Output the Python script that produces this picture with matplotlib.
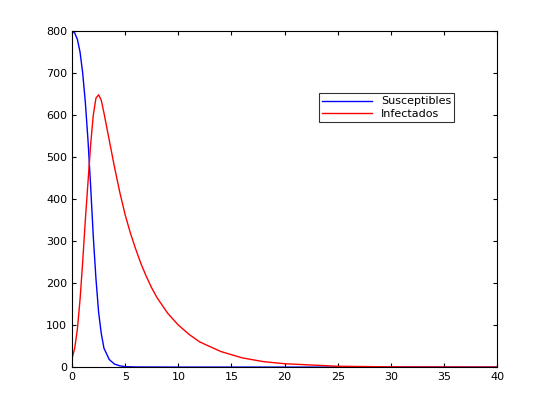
import matplotlib
matplotlib.use("Agg")
import matplotlib.pyplot as plt

t_s = [0, 0.25, 0.5, 0.75, 1.0, 1.25, 1.5, 1.75, 2.0, 2.25, 2.5, 2.75, 3.0, 3.5, 4.0, 4.5, 5.0, 6.0, 10, 20, 40]
s_vals = [800, 795, 780, 750, 700, 630, 540, 430, 310, 210, 130, 80, 45, 18, 7, 3, 1, 0.3, 0, 0, 0]
t_i = [0, 0.25, 0.5, 0.75, 1.0, 1.25, 1.5, 1.75, 2.0, 2.25, 2.5, 2.75, 3.0, 3.5, 4.0, 4.5, 5.0, 5.5, 6.0, 6.5, 7.0, 7.5, 8.0, 9.0, 10, 11, 12, 14, 16, 18, 20, 25, 30, 40]
i_vals = [20, 45, 90, 160, 250, 350, 440, 530, 600, 640, 648, 635, 605, 540, 475, 415, 362, 318, 280, 245, 215, 188, 165, 128, 100, 78, 60, 37, 22, 13, 8, 2, 0.5, 0]

fig = plt.figure(figsize=(5.5, 4.12), dpi=100)
ax = fig.add_axes([0.131, 0.109, 0.773, 0.816])
ax.plot(t_s, s_vals, color="#0000ff", lw=1, label="Susceptibles")
ax.plot(t_i, i_vals, color="#ff0000", lw=1, label="Infectados")
ax.set_xlim(0, 40)
ax.set_ylim(0, 800)
ax.set_xticks(range(0, 41, 5))
ax.set_yticks(range(0, 801, 100))
ax.tick_params(direction="in", labelsize=8, top=True, right=True, length=3)
leg = ax.legend(loc="upper left", bbox_to_anchor=(0.58, 0.815), fontsize=8,
                fancybox=False, edgecolor="black", borderaxespad=0, handlelength=4.5,
                borderpad=0.3, labelspacing=0.2)
leg.get_frame().set_linewidth(0.8)
fig.savefig("out.png", dpi=100)
